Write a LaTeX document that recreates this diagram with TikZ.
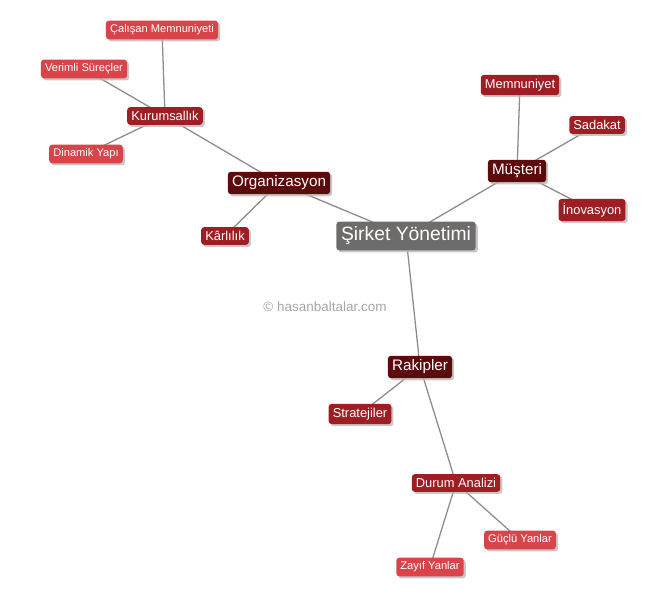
\documentclass[tikz,border=0pt]{standalone}
\usepackage{fontspec}
\setmainfont{Liberation Sans}
\usepackage{xcolor}
\usetikzlibrary{shadows,backgrounds}

\definecolor{rootgray}{HTML}{6E6B6B}
\definecolor{mainred}{HTML}{5C0A0C}
\definecolor{subred}{HTML}{9E1E24}
\definecolor{leafred}{HTML}{D9444B}

\begin{document}
\begin{tikzpicture}[x=0.03cm,y=-0.03cm,
    box/.style={text=white,inner xsep=3pt,inner ysep=3.5pt,rounded corners=2.5pt,
        drop shadow={shadow xshift=1.8pt,shadow yshift=-1.8pt,fill=gray!55,opacity=0.8}},
    rootbox/.style={box,fill=rootgray,font=\fontsize{16.5}{18}\selectfont,inner xsep=4pt,inner ysep=4.5pt},
    mainbox/.style={box,fill=mainred,font=\fontsize{13}{15}\selectfont,inner xsep=3.5pt,inner ysep=3.5pt},
    subbox/.style={box,fill=subred,font=\fontsize{11}{13}\selectfont,inner xsep=3.5pt},
    leafbox/.style={box,fill=leafred,font=\fontsize{9.5}{11}\selectfont,inner xsep=3.5pt},
    link/.style={gray!90,line width=1.1pt}]
    \useasboundingbox (0,0) rectangle (670,600);

    % Center
    \node[rootbox] (sirket) at (406,236) {Şirket Yönetimi};

    % Organizasyon branch
    \node[mainbox] (org) at (279,183) {Organizasyon};
    \node[subbox] (karlilik) at (225,236) {Kârlılık};
    \node[subbox] (kurum) at (165,116) {Kurumsallık};
    \node[leafbox] (calisan) at (162,30) {Çalışan Memnuniyeti};
    \node[leafbox] (verimli) at (84,69) {Verimli Süreçler};
    \node[leafbox] (dinamik) at (86,154) {Dinamik Yapı};

    % Musteri branch
    \node[mainbox] (musteri) at (517,171) {Müşteri};
    \node[subbox] (memnun) at (520,85) {Memnuniyet};
    \node[subbox] (sadakat) at (597,125) {Sadakat};
    \node[subbox] (inovasyon) at (592,210) {İnovasyon};

    % Rakipler branch
    \node[mainbox] (rakip) at (420,367) {Rakipler};
    \node[subbox] (strateji) at (360,414) {Stratejiler};
    \node[subbox] (durum) at (456,483) {Durum Analizi};
    \node[leafbox] (guclu) at (520,540) {Güçlü Yanlar};
    \node[leafbox] (zayif) at (430,567) {Zayıf Yanlar};

    % Watermark
    \node[text=gray!70,font=\fontsize{11.5}{13}\selectfont] (copy) at (325,307) {© hasanbaltalar.com};

    % Links
    \begin{pgfonlayer}{background}
        \draw[link] (sirket.center) -- (org.center);
        \draw[link] (sirket.center) -- (musteri.center);
        \draw[link] (sirket.center) -- (rakip.center);
        \draw[link] (org.center) -- (karlilik.center);
        \draw[link] (org.center) -- (kurum.center);
        \draw[link] (kurum.center) -- (calisan.center);
        \draw[link] (kurum.center) -- (verimli.center);
        \draw[link] (kurum.center) -- (dinamik.center);
        \draw[link] (musteri.center) -- (memnun.center);
        \draw[link] (musteri.center) -- (sadakat.center);
        \draw[link] (musteri.center) -- (inovasyon.center);
        \draw[link] (rakip.center) -- (strateji.center);
        \draw[link] (rakip.center) -- (durum.center);
        \draw[link] (durum.center) -- (guclu.center);
        \draw[link] (durum.center) -- (zayif.center);
    \end{pgfonlayer}
\end{tikzpicture}
\end{document}
